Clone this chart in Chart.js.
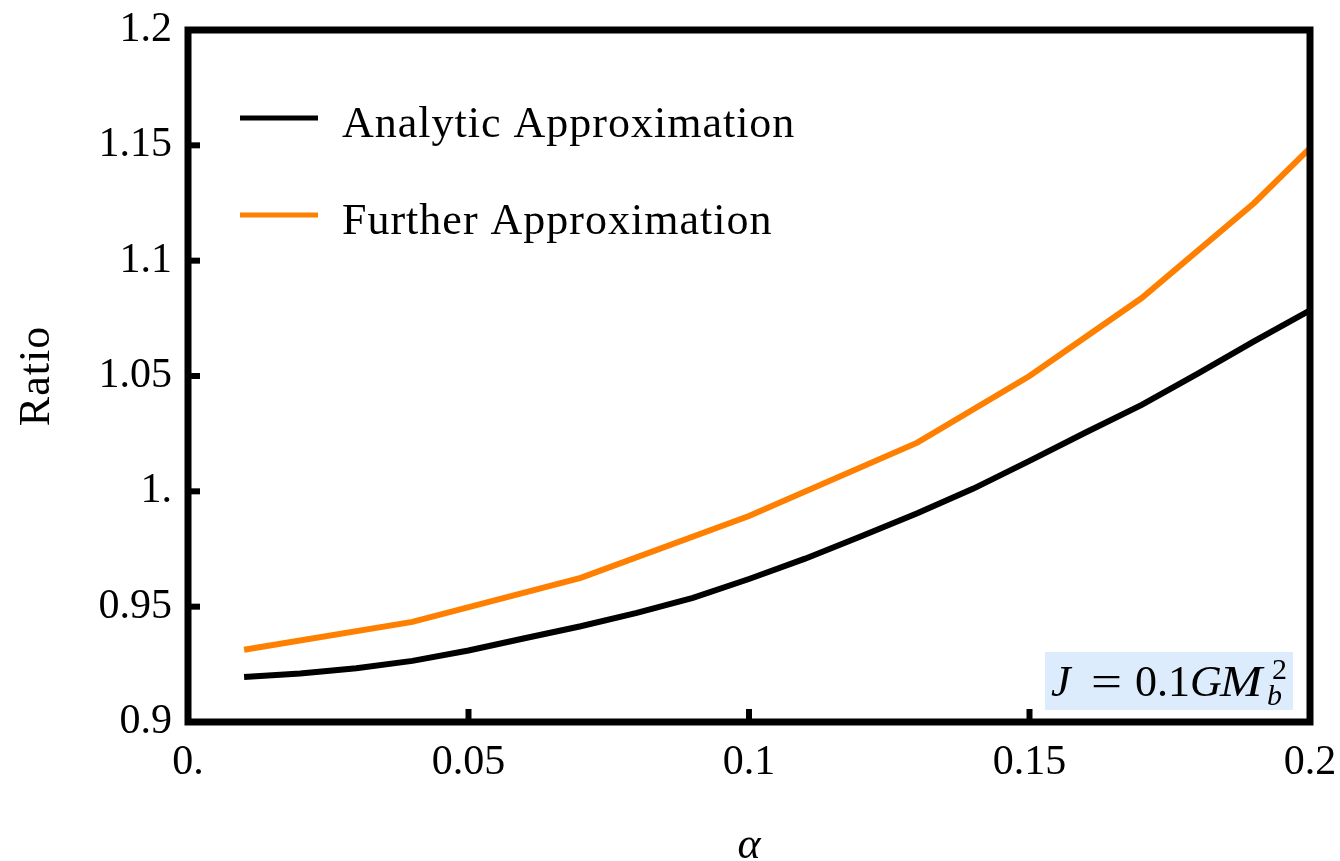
<!DOCTYPE html>
<html>
<head>
<meta charset="utf-8">
<title>Ratio vs alpha</title>
<script src="https://cdn.jsdelivr.net/npm/chart.js@4.4.1/dist/chart.umd.min.js"></script>
<style>
  html, body { margin: 0; padding: 0; background: #ffffff; }
  #wrap { width: 1340px; height: 861px; position: relative; }
  canvas { display: block; }
</style>
</head>
<body>
<div id="wrap"><canvas id="chart" width="1340" height="861"></canvas></div>
<script>
// Analytic approximation, sampled every 0.01 in alpha
const alphaAnalytic = [0.01, 0.02, 0.03, 0.04, 0.05, 0.06, 0.07, 0.08, 0.09, 0.10,
                       0.11, 0.12, 0.13, 0.14, 0.15, 0.16, 0.17, 0.18, 0.19, 0.20];
const ratioAnalytic = [0.9195, 0.9210, 0.9233, 0.9265, 0.9310, 0.9363, 0.9415, 0.9473, 0.9538, 0.9620,
                       0.9708, 0.9805, 0.9905, 1.0012, 1.0132, 1.0255, 1.0375, 1.0510, 1.0650, 1.0785];

// Further approximation (coarser sampling)
const alphaFurther = [0.01, 0.04, 0.07, 0.10, 0.13, 0.15, 0.17, 0.19, 0.20];
const ratioFurther = [0.9313, 0.9434, 0.9625, 0.9893, 1.0211, 1.0500, 1.0838, 1.1249, 1.1488];

const seriesNames = ['Analytic Approximation', 'Further Approximation'];
const seriesColors = ['#000000', '#ff8000'];

const xTickLabels = ['0.', '0.05', '0.1', '0.15', '0.2'];
const yTickLabels = ['0.9', '0.95', '1.', '1.05', '1.1', '1.15', '1.2'];
const xTitle = 'α';
const yTitle = 'Ratio';

const SERIF = '"Liberation Serif", "Times New Roman", serif';

// Frame, inner tick marks, legend, axis titles and the J label
const decorations = {
  id: 'decorations',
  afterDatasetsDraw(chart) {
    const ctx = chart.ctx;
    const a = chart.chartArea;
    const xs = chart.scales.x, ys = chart.scales.y;
    ctx.save();

    // boxed frame
    ctx.strokeStyle = '#000';
    ctx.lineWidth = 7;
    ctx.lineJoin = 'miter';
    ctx.strokeRect(a.left, a.top, a.right - a.left, a.bottom - a.top);

    // inward ticks on bottom and left edges
    ctx.lineWidth = 6;
    ctx.lineCap = 'butt';
    xs.ticks.forEach((t, i) => {
      if (i === 0 || i === xs.ticks.length - 1) return;
      const px = xs.getPixelForValue(t.value);
      ctx.beginPath();
      ctx.moveTo(px, a.bottom);
      ctx.lineTo(px, a.bottom - 13);
      ctx.stroke();
    });
    ys.ticks.forEach((t, i) => {
      if (i === 0 || i === ys.ticks.length - 1) return;
      const py = ys.getPixelForValue(t.value);
      ctx.beginPath();
      ctx.moveTo(a.left, py);
      ctx.lineTo(a.left + 12, py);
      ctx.stroke();
    });

    // legend
    const rows = [a.top + 88, a.top + 185];
    chart.data.datasets.forEach((ds, i) => {
      const y = rows[i];
      ctx.strokeStyle = ds.borderColor;
      ctx.lineWidth = 5;
      ctx.beginPath();
      ctx.moveTo(a.left + 52, y);
      ctx.lineTo(a.left + 130, y);
      ctx.stroke();
      ctx.fillStyle = '#000';
      ctx.font = '44px ' + SERIF;
      ctx.letterSpacing = '1px';
      ctx.textAlign = 'left';
      ctx.textBaseline = 'alphabetic';
      ctx.fillText(ds.label, a.left + 154, y + 19);
      ctx.letterSpacing = '0px';
    });

    // axis titles
    ctx.fillStyle = '#000';
    ctx.textAlign = 'center';
    ctx.textBaseline = 'middle';
    ctx.font = 'italic 44px ' + SERIF;
    ctx.fillText(xTitle, (a.left + a.right) / 2, 846);
    ctx.save();
    ctx.translate(37, (a.top + a.bottom) / 2);
    ctx.rotate(-Math.PI / 2);
    ctx.font = '44px ' + SERIF;
    ctx.letterSpacing = '1px';
    ctx.fillText(yTitle, 0, 0);
    ctx.restore();

    // J = 0.1 G M_b^2 label
    const bx = a.right - 265, by = a.bottom - 70;
    ctx.fillStyle = 'rgb(221,236,252)';
    ctx.fillRect(bx, by, 248, 58);
    ctx.fillStyle = '#000';
    ctx.textAlign = 'left';
    ctx.textBaseline = 'alphabetic';
    const base = by + 44;
    ctx.font = 'italic 44px ' + SERIF;
    ctx.fillText('J', bx + 6, base);
    ctx.font = '44px ' + SERIF;
    ctx.save();
    ctx.translate(bx + 46, base);
    ctx.scale(1.25, 1);
    ctx.fillText('=', 0, 0);
    ctx.restore();
    ctx.fillText('0.1', bx + 90, base);
    ctx.font = 'italic 44px ' + SERIF;
    ctx.fillText('G', bx + 145, base);
    ctx.save();
    ctx.translate(bx + 175, base);
    ctx.scale(1.15, 1);
    ctx.fillText('M', 0, 0);
    ctx.restore();
    ctx.font = 'italic 30px ' + SERIF;
    ctx.fillText('b', bx + 222, base + 9);
    ctx.font = '30px ' + SERIF;
    ctx.fillText('2', bx + 227, base - 17);

    ctx.restore();
  }
};

new Chart(document.getElementById('chart'), {
  type: 'line',
  data: {
    datasets: [
      {
        label: seriesNames[0],
        data: alphaAnalytic.map((x, i) => ({ x: x, y: ratioAnalytic[i] })),
        borderColor: seriesColors[0],
        borderWidth: 6,
        pointRadius: 0,
        tension: 0,
        fill: false
      },
      {
        label: seriesNames[1],
        data: alphaFurther.map((x, i) => ({ x: x, y: ratioFurther[i] })),
        borderColor: seriesColors[1],
        borderWidth: 6,
        pointRadius: 0,
        tension: 0,
        fill: false
      }
    ]
  },
  options: {
    responsive: false,
    animation: false,
    devicePixelRatio: 1,
    layout: { padding: { top: 30, right: 30, bottom: 0, left: 0 } },
    plugins: {
      legend: { display: false },
      tooltip: { enabled: false }
    },
    scales: {
      x: {
        type: 'linear',
        min: 0,
        max: 0.2,
        grid: { display: false, drawTicks: false },
        border: { display: false },
        ticks: {
          stepSize: 0.05,
          autoSkip: false,
          maxRotation: 0,
          padding: 16,
          color: '#000',
          font: { family: SERIF, size: 42 },
          callback: (v, i) => xTickLabels[i]
        },
        afterFit: (s) => {
          s.height = 139;
          s.paddingLeft = 0;
          s.paddingRight = 0;
        }
      },
      y: {
        type: 'linear',
        min: 0.9,
        max: 1.2,
        grid: { display: false, drawTicks: false },
        border: { display: false },
        ticks: {
          stepSize: 0.05,
          autoSkip: false,
          padding: 16,
          color: '#000',
          font: { family: SERIF, size: 42 },
          callback: (v, i) => yTickLabels[i]
        },
        afterFit: (s) => {
          s.width = 188;
          s.paddingTop = 0;
          s.paddingBottom = 0;
        }
      }
    }
  },
  plugins: [decorations]
});
</script>
</body>
</html>
